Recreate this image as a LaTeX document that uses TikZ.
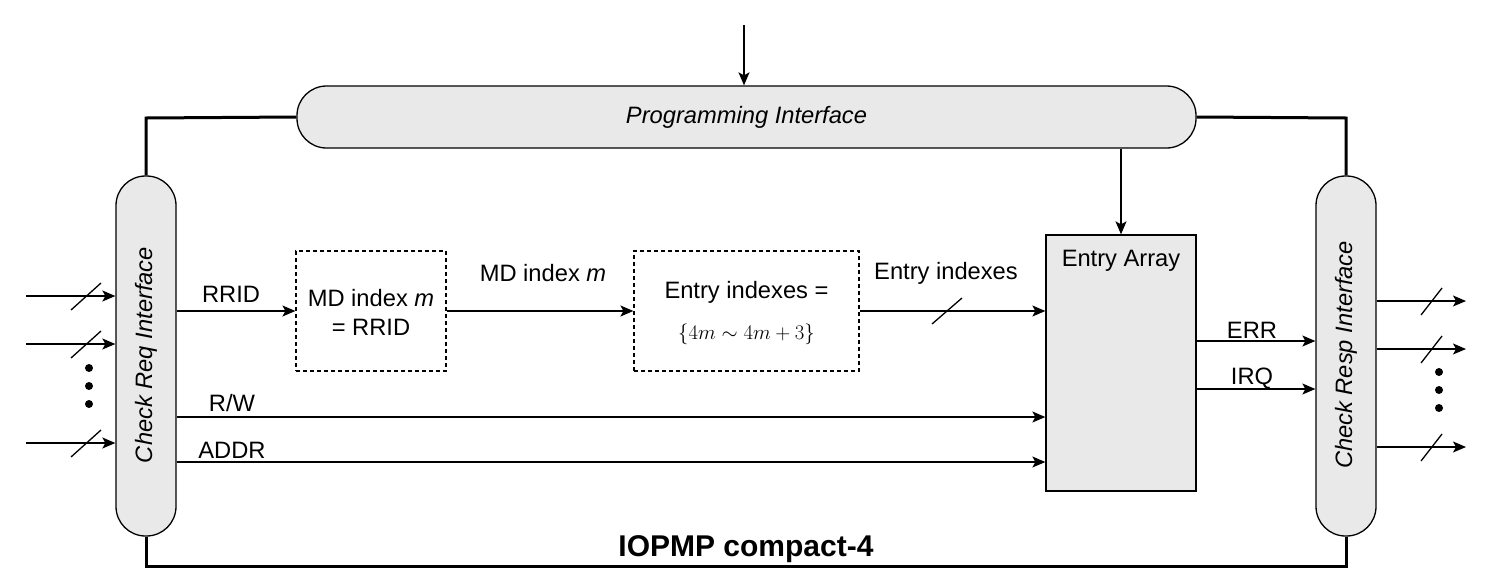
\documentclass[tikz,border=0pt]{standalone}
\usepackage{fontspec}
\setmainfont{Liberation Sans}
\usetikzlibrary{arrows.meta}
\definecolor{boxfill}{RGB}{233,233,233}
\tikzset{
  pill/.style={draw=black, line width=1.3pt, fill=boxfill, rounded corners=29.5pt, inner sep=0pt},
  dbox/.style={draw=black, dash pattern=on 4pt off 3pt, line width=1.2pt, inner sep=0pt, align=center},
  arr/.style={line width=1.3pt, -{Stealth[length=13pt,width=11pt,inset=3pt]}},
  plain/.style={line width=1.3pt},
  frame/.style={line width=3pt},
  lbl/.style={inner sep=0pt, font=\fontsize{23.7}{28}\selectfont},
  ilbl/.style={inner sep=0pt, font=\fontsize{23.7}{28}\selectfont\itshape},
  busmark/.style={line width=1.3pt},
  dot/.style={circle, fill=black, inner sep=0pt, minimum size=8pt}
}
\begin{document}
\begin{tikzpicture}[x=1pt,y=-1pt]
\useasboundingbox (0,0) rectangle (1494,584);
% nodes
\node[pill, minimum width=899pt, minimum height=62pt] (prog) at (746.5,117) {};
\node[ilbl] (progt) at (746.5,117) {Programming Interface};
\node[pill, minimum width=60pt, minimum height=360pt] (creq) at (146,356) {};
\node[ilbl, rotate=90] (creqt) at (146,355) {Check Req Interface};
\node[pill, minimum width=60pt, minimum height=360pt] (cresp) at (1346,356) {};
\node[ilbl, rotate=90] (crespt) at (1346,355) {Check Resp Interface};
\node[draw=black, line width=1.3pt, fill=boxfill, minimum width=150pt, minimum height=256pt, inner sep=0pt] (ea) at (1121,363) {};
\node[lbl] (eat) at (1121,261) {Entry Array};
\node[dbox, minimum width=150pt, minimum height=120pt] (md) at (371,311) {};
\node[lbl] (mdt1) at (371,298) {MD index \textit{m}};
\node[lbl] (mdt2) at (371,327) {= RRID};
\node[dbox, minimum width=225pt, minimum height=120pt] (ent) at (746.5,311) {};
\node[lbl] (entt1) at (746.5,292) {Entry indexes =};
\node[inner sep=0pt, font=\fontsize{20.6}{24}\selectfont] (entt2) at (746.5,334) {$\{4m\sim4m+3\}$};
\node[inner sep=0pt, font=\fontsize{30}{34}\selectfont\bfseries] (title) at (746,549) {IOPMP compact-4};

% frame
\coordinate (tl) at (146,118);
\coordinate (tr) at (1346,118);
\coordinate (bl) at (146,566);
\coordinate (br) at (1346,566);
\draw[frame] (creq.north) -- (tl) -- (prog.west);
\draw[frame] (prog.east) -- (tr) -- (cresp.north);
\draw[frame] (creq.south) -- (bl) -- (br) -- (cresp.south);

% top input
\coordinate (topin) at (744,25);
\draw[arr] (topin) -- (topin |- prog.north);
\draw[arr] (prog.south -| ea.north) -- (ea.north);

% left inputs
\foreach \y/\n in {296/1,344/2,443/3}{
  \coordinate (lin\n) at (26,\y);
  \draw[arr] (lin\n) -- (lin\n -| creq.west);
  \draw[busmark] (71,\y+14) -- (101,\y-13);
}
\node[dot] (ld1) at (89,368) {};
\node[dot] (ld2) at (89,386) {};
\node[dot] (ld3) at (89,404) {};

% right outputs
\foreach \y/\n in {301/1,349/2,447/3}{
  \coordinate (rout\n) at (1466,\y);
  \draw[arr] (rout\n -| cresp.east) -- (rout\n);
  \draw[busmark] (1421,\y+14) -- (1442,\y-13);
}
\node[dot] (rd1) at (1439,372) {};
\node[dot] (rd2) at (1439,390) {};
\node[dot] (rd3) at (1439,408) {};

% internal connections
\coordinate (yr) at (0,311);
\draw[arr] (creq.east |- yr) -- (md.west);
\node[lbl] (rridl) at (231,294) {RRID};
\draw[arr] (md.east) -- (ent.west);
\node[lbl] (mdl) at (543,273) {MD index \textit{m}};
\draw[arr] (ent.east) -- (ent.east -| ea.west);
\draw[busmark] (932,324) -- (962,298);
\node[lbl] (entl) at (946,273) {Entry indexes};

\coordinate (yrw) at (0,417);
\draw[arr] (creq.east |- yrw) -- (ea.west |- yrw);
\node[lbl] (rwl) at (232,403) {R/W};
\coordinate (yad) at (0,462);
\draw[arr] (creq.east |- yad) -- (ea.west |- yad);
\node[lbl] (addrl) at (232,450) {ADDR};

\coordinate (yerr) at (0,341);
\draw[arr] (ea.east |- yerr) -- (cresp.west |- yerr);
\node[lbl] (errl) at (1252,330) {ERR};
\coordinate (yirq) at (0,389);
\draw[arr] (ea.east |- yirq) -- (cresp.west |- yirq);
\node[lbl] (irql) at (1252,378) {IRQ};
\end{tikzpicture}
\end{document}
